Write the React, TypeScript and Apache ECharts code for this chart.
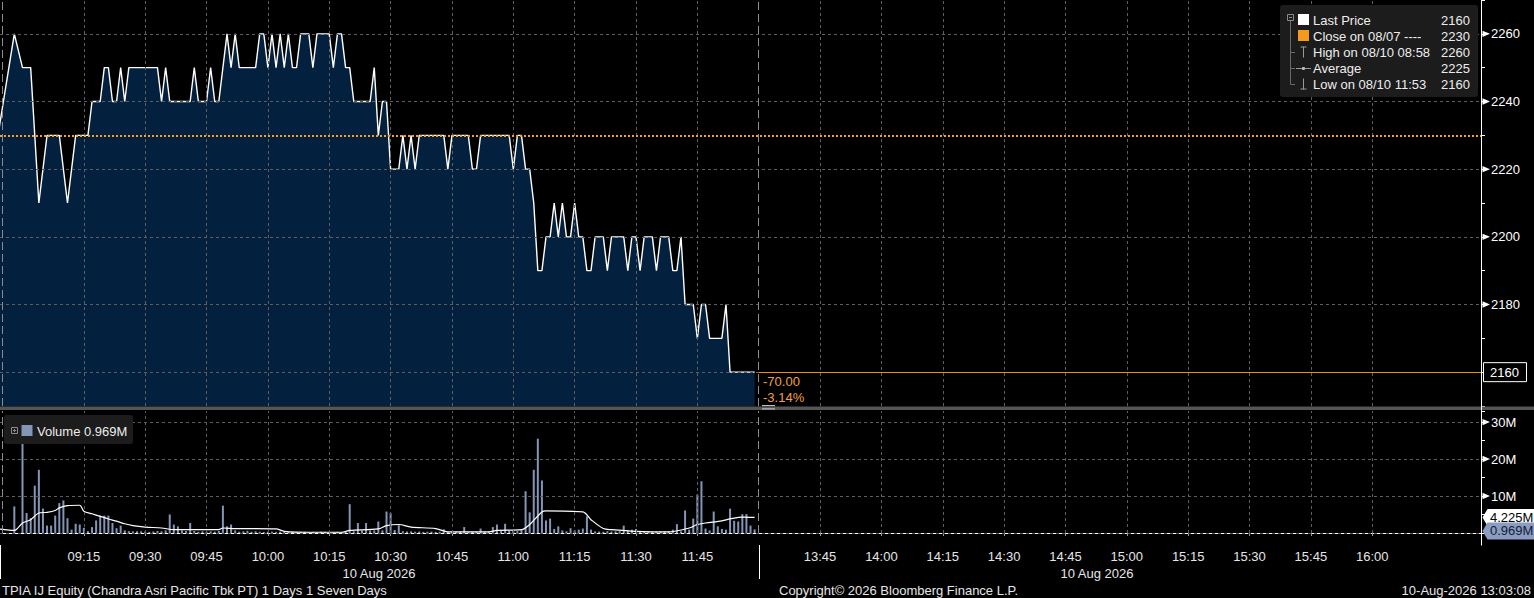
import React, { useEffect, useRef } from "react";
import * as echarts from "echarts";

// ---------------- DATA ----------------
const priceTimes = [
  "08:54","08:58","09:00","09:02","09:04","09:06","09:09","09:11","09:13","09:16",
  "09:17","09:19","09:20","09:21","09:22","09:23","09:24","09:25","09:26","09:33",
  "09:34","09:35","09:36","09:41","09:42","09:43","09:45","09:46","09:47","09:48",
  "09:50","09:51","09:52","09:53","09:57","09:58","09:59","10:00","10:01","10:02",
  "10:03","10:04","10:05","10:06","10:07","10:08","10:10","10:11","10:12","10:15",
  "10:16","10:17","10:18","10:19","10:20","10:21","10:25","10:26","10:27","10:28",
  "10:29","10:30","10:32","10:33","10:34","10:35","10:36","10:37","10:43","10:44",
  "10:45","10:49","10:50","10:51","10:52","10:59","11:00","11:01","11:02","11:03",
  "11:04","11:05","11:06","11:07","11:08","11:09","11:10","11:11","11:12","11:13",
  "11:14","11:15","11:16","11:17","11:18","11:19","11:20","11:22","11:23","11:24",
  "11:27","11:28","11:29","11:30","11:31","11:32","11:34","11:35","11:36","11:38",
  "11:39","11:40","11:41","11:42","11:44","11:45","11:46","11:47","11:48","11:51",
  "11:52","11:53","11:59"
];
const prices = [
  2230,2260,2250,2250,2210,2230,2230,2210,2230,2230,
  2240,2240,2250,2250,2240,2240,2250,2240,2250,2250,
  2240,2250,2240,2240,2250,2240,2240,2250,2240,2240,
  2260,2250,2260,2250,2250,2260,2260,2250,2260,2250,
  2260,2250,2260,2250,2250,2260,2260,2250,2260,2260,
  2250,2260,2260,2250,2250,2240,2240,2250,2230,2240,
  2240,2220,2220,2230,2220,2230,2220,2230,2230,2220,
  2230,2230,2220,2220,2230,2230,2220,2230,2230,2220,
  2220,2210,2190,2190,2200,2200,2210,2200,2210,2200,
  2200,2210,2200,2200,2190,2190,2200,2200,2190,2200,
  2200,2190,2200,2200,2190,2200,2200,2190,2200,2200,
  2190,2190,2200,2180,2180,2170,2180,2180,2170,2170,
  2180,2160,2160
];

// one-minute volumes (millions), first bar at volumeStart
const volumeStart = "08:58";
const volumesM = [
  7.2,0,30,5.4,4.0,12.8,17.1,6.6,2.0,2.0,
  4.7,8.1,8.8,4.0,0.9,2.5,2.3,1.4,0.5,1.6,
  3.4,4.7,4.7,4.7,2.7,1.3,2.0,0.7,0.5,0.45,
  0.45,0.45,0.4,0.3,0.4,0.55,0.45,0.7,5.0,2.3,
  1.8,0.7,0.55,2.7,0.55,0.35,0.45,0.35,0.45,0.35,
  0.55,7.4,1.8,2.3,0.7,0.35,0.45,0.6,0.35,0.45,
  0.35,0.3,0.35,0.35,0.3,0.35,0.35,0.3,0.35,0.3,
  0.3,0.3,0.2,0.3,0.2,0.35,0.3,0.2,0.2,0.3,
  0.2,0.3,7.8,0.45,2.7,0.7,2.7,0.7,0.7,3.1,
  0.7,5.8,5.4,0.8,2.1,0.5,0.4,0.45,0.35,0.4,
  0.3,0.35,0.4,0.3,0.35,1.0,0.3,0.35,0.3,0.4,
  1.6,0.3,0.35,0.4,1.2,0.35,0.4,1.6,2.3,0.5,
  2.5,0.6,0.7,0.5,0.8,11.3,5.6,17.1,25.5,14.2,
  3.4,3.9,1.1,1.8,0.7,0.45,1.3,0.7,0.9,1.2,
  4.5,0.9,0.45,0.4,0.35,0.5,0.4,0.45,0.5,2.0,
  0.7,0.9,1.1,0.4,0.35,0.4,0.3,0.35,0.4,0.45,
  0.5,0.9,2.4,0.45,6.1,0.9,3.9,10.4,14.0,1.2,
  0.7,5.8,1.8,1.1,0.9,6.6,3.3,3.1,5.1,5.1,
  2.0,0.969
];

const volAvgTimes = [
  "08:54","08:58","09:00","09:02","09:04","09:06","09:08","09:09","09:11","09:14",
  "09:15","09:17","09:19","09:21","09:23","09:25","09:27","09:30","09:34","09:37",
  "09:43","09:48","09:49","09:52","10:02","10:04","10:10","10:18","10:20","10:27",
  "10:29","10:32","10:35","10:41","10:44","10:54","10:56","11:02","11:04","11:07",
  "11:08","11:17","11:19","11:22","11:24","11:30","11:38","11:43","11:45","11:47",
  "11:51","11:53","11:56","11:59"
];
const volAvgM = [
  1.1,0.7,2.7,3.6,5.4,5.6,6.1,6.8,7.4,7.5,
  5.9,5.2,4.5,3.8,3.2,2.5,2.0,1.6,1.35,0.9,
  0.9,0.9,1.35,1.2,1.1,0.45,0.2,0.2,0.7,1.1,
  2.0,2.3,1.6,1.2,0.3,0.3,0.7,0.9,2.3,5.7,
  6.0,5.7,3.6,1.2,0.9,0.45,0.3,1.35,2.3,2.7,
  3.3,3.8,4.3,4.225
];

const session1Labels = ["09:15","09:30","09:45","10:00","10:15","10:30","10:45","11:00","11:15","11:30","11:45"];
const session2Labels = ["13:45","14:00","14:15","14:30","14:45","15:00","15:15","15:30","15:45","16:00"];
const priceTickLabels = [2160, 2180, 2200, 2220, 2240, 2260];
const volumeGridLines = [0, 10, 20, 30];
const volumeTickLabels = [10, 20, 30];

const legendNames = ["Last Price", "Close on 08/07 ----", "High on 08/10 08:58", "Average", "Low on 08/10 11:53"];
const legendValues = ["2160", "2230", "2260", "2225", "2160"];

const closePrice = 2230;
const lastPrice = 2160;
const lastVolumeM = 0.969;
const lastVolAvgM = 4.225;
const changeText = "-70.00";
const changePctText = "-3.14%";
const dateLabel = "10 Aug 2026";
const footerLeft = "TPIA IJ Equity (Chandra Asri Pacific Tbk PT) 1 Days 1 Seven Days";
const footerMid = "Copyright\u00A9 2026 Bloomberg Finance L.P.";
const footerRight = "10-Aug-2026 13:03:08";

// ---------------- helpers ----------------
const AXIS_MIN = 534.5; // 08:54:30
const AXIS_MAX = 896.6; // ~16:26 (lunch break collapsed)
const BREAK = "12:00";
const FONT = '"Liberation Sans", Arial, sans-serif';

function toAxis(t: string): number {
  const [h, m] = t.split(":").map(Number);
  const v = h * 60 + m;
  return v >= 810 ? v - 90 : v;
}
function fmtAxis(v: number): string {
  const real = v > 720 ? v + 90 : v;
  const h = Math.floor(real / 60);
  const m = Math.round(real - h * 60);
  return `${String(h).padStart(2, "0")}:${String(m).padStart(2, "0")}`;
}

const gridLineStyle = { color: "#5e5e5e", type: [3, 3] as any, width: 1 };
const breakLineStyle = { color: "#8c8c8c", type: [8, 4] as any, width: 1 };
const timeLabels = [...session1Labels, ...session2Labels];

function verticalLines() {
  return [
    ...timeLabels.map((t) => ({ xAxis: toAxis(t), lineStyle: gridLineStyle })),
    { xAxis: toAxis(BREAK), lineStyle: breakLineStyle },
    { xAxis: AXIS_MIN + 0.45, lineStyle: breakLineStyle },
  ];
}

function buildOption(): any {
  const priceData = priceTimes.map((t, i) => [toAxis(t), prices[i]]);
  const v0 = toAxis(volumeStart);
  const volData = volumesM.map((v, i) => [v0 + i, v]);
  const avgData = volAvgTimes.map((t, i) => [toAxis(t), volAvgM[i]]);

  return {
    animation: false,
    backgroundColor: "#000000",
    textStyle: { fontFamily: FONT },
    grid: [
      { left: 0, right: 53, top: 0, height: 406 },
      { left: 0, right: 53, top: 411, height: 122 },
    ],
    xAxis: [
      { gridIndex: 0, type: "value", min: AXIS_MIN, max: AXIS_MAX, show: false },
      {
        gridIndex: 1, type: "value", min: AXIS_MIN, max: AXIS_MAX, offset: 12,
        axisLine: { show: true, lineStyle: { color: "#ffffff", width: 1 } },
        axisTick: { show: true, length: 3, lineStyle: { color: "#9a9a9a" }, customValues: timeLabels.map(toAxis) },
        axisLabel: {
          show: true, color: "#e6e6e6", fontSize: 13, fontFamily: FONT, margin: 5,
          customValues: timeLabels.map(toAxis), formatter: (v: number) => fmtAxis(v),
        },
        splitLine: { show: false },
      },
    ],
    yAxis: [
      {
        gridIndex: 0, type: "value", position: "right", min: 2150, max: 2270, interval: 10,
        axisLine: { show: false },
        axisTick: { show: true, length: 4, lineStyle: { color: "#ffffff" } },
        axisLabel: {
          margin: 10, color: "#ffffff", fontSize: 13, fontFamily: FONT,
          formatter: (v: number) => (v % 20 === 0 && v !== lastPrice ? String(v) : ""),
        },
        splitLine: { show: false },
      },
      {
        gridIndex: 1, type: "value", position: "right", min: 0, max: 33, interval: 5,
        axisLine: { show: false },
        axisTick: { show: true, length: 4, lineStyle: { color: "#ffffff" } },
        axisLabel: {
          margin: 10, color: "#ffffff", fontSize: 13, fontFamily: FONT,
          formatter: (v: number) => (volumeTickLabels.includes(v) ? `${v}M` : ""),
        },
        splitLine: { show: false },
      },
    ],
    series: [
      {
        type: "line", xAxisIndex: 0, yAxisIndex: 0, data: priceData,
        showSymbol: false, symbol: "none",
        lineStyle: { color: "#ffffff", width: 1.4 },
        areaStyle: { color: "#03203f", opacity: 1, origin: "start" },
        z: 2,
        markLine: {
          silent: true, symbol: ["none", "none"], label: { show: false }, animation: false,
          data: [
            ...priceTickLabels.map((v) => ({ yAxis: v, lineStyle: gridLineStyle })),
            ...verticalLines(),
            { yAxis: closePrice, lineStyle: { color: "#f5a01e", type: [2, 2], width: 2 } },
            [
              { coord: [toAxis(BREAK), lastPrice], lineStyle: { color: "#f08c10", type: "solid", width: 1 } },
              { coord: [AXIS_MAX, lastPrice] },
            ],
          ],
        },
      },
      {
        type: "bar", xAxisIndex: 1, yAxisIndex: 1, data: volData, barWidth: 2,
        itemStyle: { color: "#8396b8" },
        markLine: {
          silent: true, symbol: ["none", "none"], label: { show: false }, animation: false,
          data: [
            ...volumeGridLines.map((v) => ({ yAxis: v, lineStyle: gridLineStyle })),
            ...verticalLines(),
          ],
        },
      },
      {
        type: "line", xAxisIndex: 1, yAxisIndex: 1, data: avgData,
        showSymbol: false, symbol: "none", smooth: 0.3,
        lineStyle: { color: "#ffffff", width: 1.2 }, z: 3,
      },
    ],
  };
}

function buildGraphics(chart: any): any[] {
  const py = (v: number) => chart.convertToPixel({ yAxisIndex: 0 }, v) as number;
  const vy = (v: number) => chart.convertToPixel({ yAxisIndex: 1 }, v) as number;
  const px = (v: number) => chart.convertToPixel({ xAxisIndex: 0 }, v) as number;
  const R = 1481.5;
  const Z = 100;
  const els: any[] = [];

  const text = (t: string, x: number, y: number, o: any = {}) => ({
    type: "text", silent: true, z: o.z ?? Z,
    style: {
      text: t, x, y, fill: o.fill ?? "#e6e6e6", fontSize: o.size ?? 13, fontFamily: FONT,
      align: o.align ?? "left", verticalAlign: "middle",
      textAlign: o.align ?? "left", textVerticalAlign: "middle",
    },
  });
  const line = (x1: number, y1: number, x2: number, y2: number, stroke: string, w = 1) => ({
    type: "line", silent: true, z: Z, shape: { x1, y1, x2, y2 }, style: { stroke, lineWidth: w },
  });
  const rect = (x: number, y: number, w: number, h: number, style: any, r = 0, z = Z) => ({
    type: "rect", silent: true, z, shape: { x, y, width: w, height: h, r }, style,
  });
  const poly = (points: number[][], style: any, z = Z) => ({
    type: "polygon", silent: true, z, shape: { points }, style,
  });

  // separator between panels
  els.push(rect(0, 406.5, 1534, 3.5, { fill: "#555555" }));
  els.push(rect(762, 405, 13, 1.2, { fill: "#bdbdbd" }));
  els.push(rect(762, 408.3, 13, 1.2, { fill: "#bdbdbd" }));

  // right axis line and session dividers in time-axis area
  els.push(line(R, 0, R, 545.5, "#ffffff"));
  const xb = Math.round(px(toAxis(BREAK))) + 0.5;
  els.push(line(xb, 545, xb, 579, "#ffffff"));
  els.push(line(0.5, 545, 0.5, 579, "#ffffff"));

  // tick arrows
  const arrow = (y: number) => poly([[R + 1, y - 3.2], [R + 8.5, y], [R + 1, y + 3.2]], { fill: "#ffffff" });
  priceTickLabels.filter((v) => v !== lastPrice).forEach((v) => els.push(arrow(py(v))));
  volumeTickLabels.forEach((v) => els.push(arrow(vy(v))));

  // last price box
  const yl = py(lastPrice);
  els.push(rect(1483.5, yl - 9.5, 43, 19, { fill: "#000000", stroke: "#ffffff", lineWidth: 1 }));
  els.push(text(String(lastPrice), 1490, yl, { fill: "#ffffff" }));

  // volume value tags
  const tag = (y: number, fill: string, t: string, tf: string) => {
    els.push(poly([[R + 1, y], [R + 6, y - 8.5], [1534, y - 8.5], [1534, y + 8.5], [R + 6, y + 8.5]], { fill }));
    els.push(text(t, 1490, y, { fill: tf }));
  };
  tag(vy(lastVolAvgM), "#ffffff", lastVolAvgM.toFixed(3) + "M", "#000000");
  tag(vy(lastVolumeM) + 1.5, "#8a9cc0", lastVolumeM.toFixed(3) + "M", "#0f1d36");

  // change texts
  els.push(text(changeText, 763, 381, { fill: "#f0a040" }));
  els.push(text(changePctText, 763, 397, { fill: "#f0a040" }));

  // price legend
  els.push(rect(1280, 5, 198, 92, { fill: "#1c1c1c" }, 3, Z - 1));
  const rowY = (i: number) => 20.5 + 16 * i;
  // collapse box
  els.push(rect(1287.5, 14.5, 6, 6, { fill: "none", stroke: "#8a8a8a", lineWidth: 1 }));
  els.push(line(1289, 17.5, 1292, 17.5, "#8a8a8a"));
  els.push(line(1290.5, 21, 1290.5, 84.5, "#6a6a6a"));
  [2, 3, 4].forEach((i) => els.push(line(1290.5, rowY(i), 1295, rowY(i), "#6a6a6a")));
  els.push(rect(1298, 14, 11, 11, { fill: "#ffffff" }));
  els.push(rect(1298, 30, 11, 11, { fill: "#f59a1e" }));
  // high icon
  els.push(line(1303.5, rowY(2) - 6, 1303.5, rowY(2) + 5, "#9a9a9a"));
  els.push(line(1300.5, rowY(2) - 5.5, 1306.5, rowY(2) - 5.5, "#9a9a9a"));
  // average icon
  els.push(line(1296, rowY(3), 1311, rowY(3), "#9a9a9a"));
  els.push({ type: "circle", silent: true, z: Z, shape: { cx: 1303.5, cy: rowY(3), r: 1.6 }, style: { fill: "#bbbbbb" } });
  // low icon
  els.push(line(1303.5, rowY(4) - 6, 1303.5, rowY(4) + 5, "#9a9a9a"));
  els.push(line(1300.5, rowY(4) + 4.5, 1306.5, rowY(4) + 4.5, "#9a9a9a"));
  legendNames.forEach((n, i) => {
    els.push(text(n, 1313, rowY(i), { fill: "#ededed", size: 13 }));
    els.push(text(legendValues[i], 1470, rowY(i), { fill: "#ededed", size: 13, align: "right" }));
  });

  // volume legend
  els.push(rect(4, 415, 129, 29, { fill: "#1c1c1c" }, 3, Z - 1));
  els.push(rect(11.5, 427.5, 6, 6, { fill: "none", stroke: "#8a8a8a", lineWidth: 1 }));
  els.push(line(13, 430.5, 16, 430.5, "#8a8a8a"));
  els.push(line(14.5, 429, 14.5, 432, "#8a8a8a"));
  els.push(rect(21.5, 425, 11, 11, { fill: "#8396b8" }));
  els.push(text("Volume " + lastVolumeM.toFixed(3) + "M", 37, 431, { fill: "#ededed", size: 13 }));

  // date labels and footer
  els.push(text(dateLabel, 379, 573, { align: "center" }));
  els.push(text(dateLabel, 1097, 573, { align: "center" }));
  els.push(text(footerLeft, 2, 590, {}));
  els.push(text(footerMid, 779, 590, {}));
  els.push(text(footerRight, 1531, 590, { align: "right" }));

  return els;
}

export default function App() {
  const ref = useRef<HTMLDivElement>(null);
  useEffect(() => {
    const el = ref.current;
    if (!el) return;
    const chart = echarts.init(el, null, { renderer: "svg" });
    chart.setOption(buildOption());
    chart.setOption({ graphic: { elements: buildGraphics(chart) } });
    return () => chart.dispose();
  }, []);
  return (
    <div
      ref={ref}
      style={{ position: "fixed", left: 0, top: 0, width: 1534, height: 598, background: "#000" }}
    />
  );
}
